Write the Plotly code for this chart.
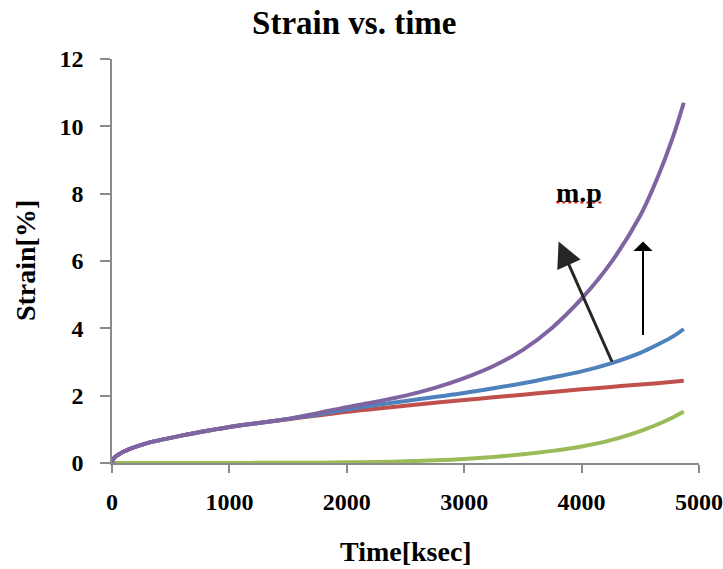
import plotly.graph_objects as go

# Time axis samples [ksec]
time_ksec = [0, 10, 30, 60, 100, 200, 300, 450, 600, 800, 1000, 1250, 1500, 1750,
             2000, 2250, 2500, 2750, 3000, 3250, 3500, 3750, 4000, 4250, 4500,
             4650, 4780, 4870]

# Strain [%] for each case
strain_purple = [0, 0.11, 0.19, 0.26, 0.34, 0.48, 0.59, 0.71, 0.82, 0.95, 1.07, 1.19,
                 1.31, 1.48, 1.66, 1.82, 2.00, 2.23, 2.52, 2.88, 3.36, 4.02, 4.88,
                 5.95, 7.35, 8.50, 9.70, 10.70]
strain_blue = [0, 0.11, 0.19, 0.26, 0.34, 0.48, 0.59, 0.71, 0.82, 0.95, 1.07, 1.19,
               1.31, 1.44, 1.59, 1.72, 1.84, 1.96, 2.08, 2.22, 2.37, 2.54, 2.72,
               2.96, 3.27, 3.52, 3.76, 3.98]
strain_red = [0, 0.11, 0.19, 0.26, 0.34, 0.48, 0.59, 0.71, 0.82, 0.95, 1.07, 1.19,
              1.30, 1.41, 1.52, 1.61, 1.70, 1.79, 1.87, 1.95, 2.03, 2.11, 2.19,
              2.26, 2.33, 2.37, 2.41, 2.44]
strain_green = [0, 0, 0, 0, 0, 0, 0, 0, 0, 0, 0, 0.005, 0.01, 0.01, 0.02, 0.03,
                0.05, 0.08, 0.12, 0.18, 0.26, 0.36, 0.49, 0.68, 0.95, 1.15, 1.36, 1.53]

series = [
    ("red", strain_red, "#C0504D"),
    ("green", strain_green, "#9BBB59"),
    ("blue", strain_blue, "#4F81BD"),
    ("purple", strain_purple, "#8064A2"),
]

# Arrow annotations (tail -> head) in data units
arrow_tilted_tail = [4264, 2.97]
arrow_tilted_head = [3804, 6.58]
arrow_vertical_tail = [4523, 3.76]
arrow_vertical_head = [4523, 6.58]
label_mp_pos = [3980, 8.02]
label_mp_underline = [3785, 4170, 7.74]

FONT = "Liberation Serif"

fig = go.Figure()
for name, ys, color in series:
    fig.add_trace(go.Scatter(
        x=time_ksec, y=ys, mode="lines", name=name,
        line=dict(color=color, width=4, shape="spline", smoothing=1.0),
        showlegend=False, hoverinfo="skip",
    ))

axis_common = dict(
    showline=True, linecolor="#8a8a8a", linewidth=1.5,
    showgrid=False, zeroline=False, ticks="outside", tickcolor="#8a8a8a",
    tickwidth=1.5, automargin=False,
    tickfont=dict(family=FONT, size=24, color="black", weight="bold"),
)

fig.update_xaxes(range=[0, 5000], tickvals=[0, 1000, 2000, 3000, 4000, 5000],
                 ticklen=8, ticklabelstandoff=8, **axis_common)
fig.update_yaxes(range=[0, 12], tickvals=[0, 2, 4, 6, 8, 10, 12],
                 ticklen=10, ticklabelstandoff=12, **axis_common)

annotations = [
    dict(x=arrow_tilted_head[0], y=arrow_tilted_head[1],
         ax=arrow_tilted_tail[0], ay=arrow_tilted_tail[1],
         xref="x", yref="y", axref="x", ayref="y", text="",
         showarrow=True, arrowhead=2, arrowsize=1.7, arrowwidth=3,
         arrowcolor="#262626"),
    dict(x=arrow_vertical_head[0], y=arrow_vertical_head[1],
         ax=arrow_vertical_tail[0], ay=arrow_vertical_tail[1],
         xref="x", yref="y", axref="x", ayref="y", text="",
         showarrow=True, arrowhead=1, arrowsize=1.6, arrowwidth=2,
         arrowcolor="black"),
    dict(x=label_mp_pos[0], y=label_mp_pos[1], xref="x", yref="y",
         text="m.p", showarrow=False,
         font=dict(family=FONT, size=28, color="black", weight="bold")),
    dict(x=0.5, y=-0.22, xref="paper", yref="paper", text="Time[ksec]",
         showarrow=False, yanchor="middle",
         font=dict(family=FONT, size=28, color="black", weight="bold")),
    dict(x=-0.148, y=0.5, xref="paper", yref="paper", text="Strain[%]",
         showarrow=False, textangle=-90, xanchor="center",
         font=dict(family=FONT, size=28, color="black", weight="bold")),
]

# Red spell-check squiggle under the label
fig.add_shape(type="line", x0=label_mp_underline[0], x1=label_mp_underline[1],
              y0=label_mp_underline[2], y1=label_mp_underline[2],
              xref="x", yref="y", line=dict(color="#e02020", width=2, dash="dot"))

fig.update_layout(
    width=723, height=569,
    margin=dict(l=112, r=24, t=59, b=106, autoexpand=False),
    paper_bgcolor="white", plot_bgcolor="white",
    title=dict(text="Strain vs. time", x=0.49, xref="container", xanchor="center",
               y=0.96, yref="container", yanchor="middle",
               font=dict(family=FONT, size=33, color="black", weight="bold")),
    annotations=annotations,
)

fig.write_html("out.html")
